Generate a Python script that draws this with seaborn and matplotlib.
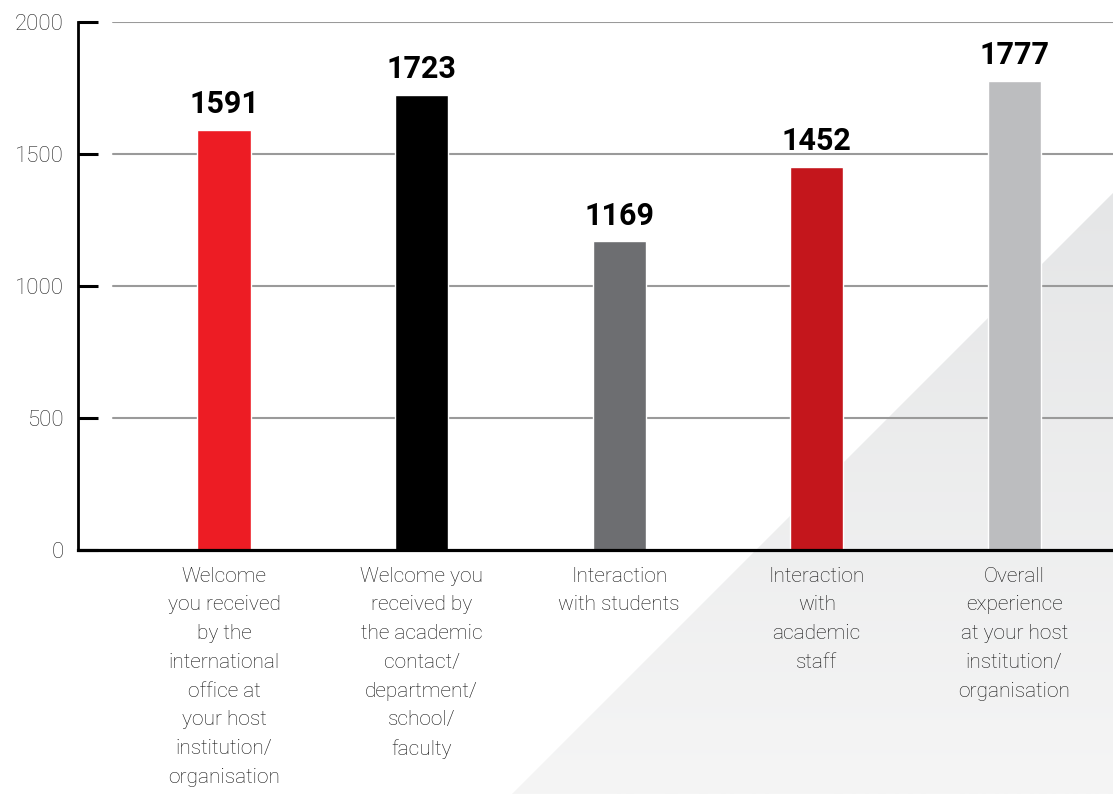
import numpy as np
import matplotlib
matplotlib.use("Agg")
import matplotlib.pyplot as plt
from matplotlib.patches import Polygon
from matplotlib.colors import LinearSegmentedColormap
import seaborn as sns

categories = [
    "Welcome\nyou received\nby the\ninternational\noffice at\nyour host\ninstitution/\norganisation",
    "Welcome you\nreceived by\nthe academic\ncontact/\ndepartment/\nschool/\nfaculty",
    "Interaction\nwith students",
    "Interaction\nwith\nacademic\nstaff",
    "Overall\nexperience\nat your host\ninstitution/\norganisation",
]
values = [1591, 1723, 1169, 1452, 1777]
colors = ["#ED1C24", "#000000", "#6D6E71", "#C4161C", "#BCBDBF"]
yticks = [0, 500, 1000, 1500, 2000]

sns.set_style("white")
plt.rcParams["font.family"] = ["Roboto", "DejaVu Sans"]

W, H = 1113, 794
fig = plt.figure(figsize=(W / 100, H / 100), dpi=100)
fig.patch.set_facecolor("white")

# background gradient triangle
bg = fig.add_axes([0, 0, 1, 1], zorder=-2)
bg.set_xlim(0, W)
bg.set_ylim(H, 0)
bg.axis("off")
grad = np.linspace(0, 1, 256).reshape(-1, 1)
cmap = LinearSegmentedColormap.from_list("g", ["#e5e6e7", "#f5f5f5"])
im = bg.imshow(grad, cmap=cmap, aspect="auto", extent=[0, W, H, 190], zorder=0)
tri = Polygon([(512, H), (W, H), (W, 193)], closed=True, transform=bg.transData,
              facecolor="none", edgecolor="none")
bg.add_patch(tri)
im.set_clip_path(tri)

ax = fig.add_axes([78 / W, (H - 550) / H, 1 - 78 / W, (550 - 22) / H])
ax.set_facecolor("none")

sns.barplot(x=categories, y=values, hue=categories, palette=colors, width=0.27,
            legend=False, ax=ax, saturation=1, zorder=3)

ax.set_xlim(-0.74, 4.5)
ax.set_ylim(0, 2000)
ax.set_yticks(yticks)
ax.set_yticklabels([str(t) for t in yticks], fontsize=16, fontweight="light", color="#222222")

# gridlines starting a little right of the spine
gx0 = (113 - 78) / (W - 78)
for t in yticks[1:]:
    ax.axhline(t, xmin=gx0, xmax=1, color="#9a9a9a", lw=1.5, zorder=1)

for s in ["top", "right"]:
    ax.spines[s].set_visible(False)
ax.spines["left"].set_linewidth(2.0)
ax.spines["left"].set_color("black")
ax.spines["bottom"].set_linewidth(2.3)
ax.spines["bottom"].set_color("black")
ax.spines["bottom"].set_zorder(5)

ax.tick_params(axis="y", direction="in", length=14.5, width=2.2, color="black", pad=10,
               left=True)
ax.tick_params(axis="x", length=0, pad=12)
for lbl in ax.get_xticklabels():
    lbl.set_fontsize(15)
    lbl.set_fontweight("light")
    lbl.set_linespacing(1.65)
    lbl.set_color("#111111")
    lbl.set_verticalalignment("top")

for i, v in enumerate(values):
    ax.annotate(str(v), (i, v), xytext=(0, 12), textcoords="offset points",
                ha="center", va="baseline", fontsize=22, fontweight="bold", color="black")

ax.set_xlabel("")
ax.set_ylabel("")
fig.savefig("out.png", dpi=100)
